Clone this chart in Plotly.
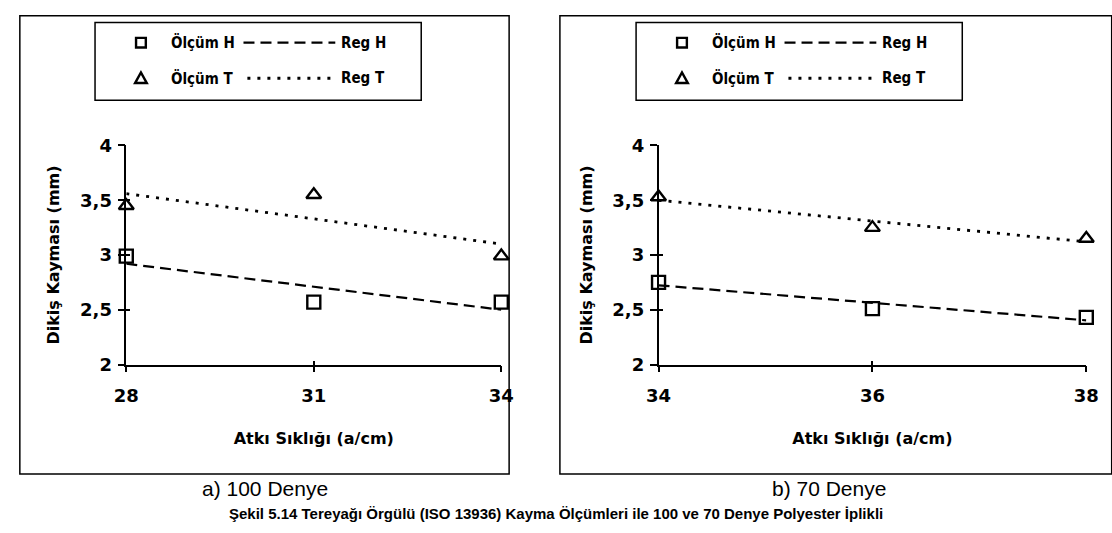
import numpy as np
import plotly.graph_objects as go

W, H = 1112, 533

# a) 100 Denye
atki_a = [28, 31, 34]
olcum_h_a = [2.99, 2.57, 2.57]
olcum_t_a = [3.45, 3.55, 2.99]

# b) 70 Denye
atki_b = [34, 36, 38]
olcum_h_b = [2.75, 2.51, 2.43]
olcum_t_b = [3.53, 3.25, 3.15]

y_tickvals = [2, 2.5, 3, 3.5, 4]
y_ticktext = ["2", "2,5", "3", "3,5", "4"]

panel_titles = ["a) 100 Denye", "b) 70 Denye"]
caption = "Şekil 5.14 Tereyağı Örgülü (ISO 13936) Kayma Ölçümleri ile 100 ve 70 Denye Polyester İplikli"


def px(x):
    return x / W


def py(y):
    return 1 - y / H


def fit_line(xs, ys):
    k, b = np.polyfit(xs, ys, 1)
    ends = np.array([min(xs), max(xs)], dtype=float)
    return ends, k * ends + b


BOLD = dict(family="DejaVu Sans", weight="bold", color="black")
COND = dict(family="DejaVu Sans Condensed", weight="bold", color="black")

fig = go.Figure()

panels = [
    dict(x=atki_a, h=olcum_h_a, t=olcum_t_a, xa="x", ya="y"),
    dict(x=atki_b, h=olcum_h_b, t=olcum_t_b, xa="x2", ya="y2"),
]

for p in panels:
    ex, eh = fit_line(p["x"], p["h"])
    _, et = fit_line(p["x"], p["t"])
    fig.add_trace(go.Scatter(x=ex, y=eh, mode="lines", xaxis=p["xa"], yaxis=p["ya"],
                             line=dict(color="black", width=2.2, dash="11px,6px"),
                             cliponaxis=False, showlegend=False, hoverinfo="skip"))
    fig.add_trace(go.Scatter(x=ex, y=et, mode="lines", xaxis=p["xa"], yaxis=p["ya"],
                             line=dict(color="black", width=2.8, dash="3px,7px"),
                             cliponaxis=False, showlegend=False, hoverinfo="skip"))
    fig.add_trace(go.Scatter(x=p["x"], y=p["h"], mode="markers", xaxis=p["xa"], yaxis=p["ya"],
                             marker=dict(symbol="square-open", size=13, color="black",
                                         line=dict(width=2.4, color="black")),
                             cliponaxis=False, showlegend=False))
    fig.add_trace(go.Scatter(x=p["x"], y=p["t"], mode="markers", xaxis=p["xa"], yaxis=p["ya"],
                             marker=dict(symbol="triangle-up-open", size=13, color="black",
                                         line=dict(width=2.4, color="black")),
                             cliponaxis=False, showlegend=False))

# empty traces so the inner-tick overlay axes get drawn
fig.add_trace(go.Scatter(x=[None], y=[None], xaxis="x3", yaxis="y3", showlegend=False))
fig.add_trace(go.Scatter(x=[None], y=[None], xaxis="x4", yaxis="y4", showlegend=False))

y_dom = [py(368), py(140)]
xa_dom = [px(116), px(500)]
xb_dom = [px(661), px(1099)]

common_x = dict(showgrid=False, zeroline=False, showline=True, linecolor="black", linewidth=1.5,
                ticks="outside", ticklen=6, tickwidth=1.5, tickcolor="black",
                tickfont=dict(size=18, **BOLD), fixedrange=True)
common_y = dict(showgrid=False, zeroline=False, showline=True, linecolor="black", linewidth=1.5,
                ticks="outside", ticklen=7, tickwidth=1.5, tickcolor="black",
                tickvals=y_tickvals, ticktext=y_ticktext, range=[2, 4],
                tickfont=dict(size=18, **BOLD), fixedrange=True, ticklabelstandoff=2)
inner = dict(showgrid=False, zeroline=False, showline=False, ticks="inside", ticklen=4,
             tickwidth=1.5, tickcolor="black", showticklabels=False, fixedrange=True)

x_title = dict(text="Atkı Sıklığı (a/cm)", font=dict(size=16, **BOLD), standoff=28)
y_title = dict(text="Dikiş Kayması (mm)", font=dict(size=16, **BOLD), standoff=16)

fig.update_layout(
    width=W, height=H, margin=dict(l=0, r=0, t=0, b=0),
    paper_bgcolor="white", plot_bgcolor="rgba(0,0,0,0)",
    xaxis=dict(domain=xa_dom, range=[28, 34], tickvals=atki_a, anchor="y",
               title=x_title, ticklabelstandoff=8, **common_x),
    yaxis=dict(domain=y_dom, anchor="x", title=y_title, **common_y),
    xaxis2=dict(domain=xb_dom, range=[34, 38], tickvals=atki_b, anchor="y2",
                title=x_title, ticklabelstandoff=8, **common_x),
    yaxis2=dict(domain=y_dom, anchor="x2", title=y_title, **common_y),
    xaxis3=dict(domain=xa_dom, range=[28, 34], tickvals=atki_a, overlaying="x", anchor="y3", **inner),
    yaxis3=dict(domain=y_dom, range=[2, 4], tickvals=y_tickvals, overlaying="y", anchor="x3", **inner),
    xaxis4=dict(domain=xb_dom, range=[34, 38], tickvals=atki_b, overlaying="x2", anchor="y4", **inner),
    yaxis4=dict(domain=y_dom, range=[2, 4], tickvals=y_tickvals, overlaying="y2", anchor="x4", **inner),
)

shapes = []
annotations = []

# panel frames
for x0, x1 in [(7, 508), (560, 1125)]:
    shapes.append(dict(type="rect", xref="paper", yref="paper", x0=px(x0), x1=px(x1),
                       y0=py(482), y1=py(5), line=dict(color="black", width=1.5)))

# legend boxes
for off in [0, 554]:
    shapes.append(dict(type="rect", xref="paper", yref="paper", x0=px(84 + off), x1=px(418 + off),
                       y0=py(93), y1=py(12), line=dict(color="black", width=1.5)))
    # square key
    shapes.append(dict(type="rect", xref="paper", yref="paper",
                       x0=px(126 + off), x1=px(136 + off), y0=py(38), y1=py(28),
                       line=dict(color="black", width=2.4)))
    # triangle key
    tx, ty = 131 + off, 70
    path = "M {} {} L {} {} L {} {} Z".format(px(tx - 6), py(ty + 5), px(tx + 6), py(ty + 5), px(tx), py(ty - 6))
    shapes.append(dict(type="path", xref="paper", yref="paper", path=path,
                       line=dict(color="black", width=2.4)))
    # line keys
    shapes.append(dict(type="line", xref="paper", yref="paper", x0=px(236 + off), x1=px(330 + off),
                       y0=py(33), y1=py(33), line=dict(color="black", width=2.2, dash="11px,6px")))
    shapes.append(dict(type="line", xref="paper", yref="paper", x0=px(240 + off), x1=px(330 + off),
                       y0=py(70), y1=py(70), line=dict(color="black", width=2.8, dash="3px,7px")))
    for label, lx, ly in [("Ölçüm H", 160, 33), ("Reg H", 334, 33),
                          ("Ölçüm T", 160, 70), ("Reg T", 334, 70)]:
        annotations.append(dict(text=label, xref="paper", yref="paper", x=px(lx + off), y=py(ly),
                                xanchor="left", yanchor="middle", showarrow=False,
                                font=dict(size=15, **COND)))

# panel captions
for title, cx in zip(panel_titles, [258, 836]):
    annotations.append(dict(text=title, xref="paper", yref="paper", x=px(cx), y=py(497),
                            xanchor="center", yanchor="middle", showarrow=False,
                            font=dict(family="Liberation Sans", size=21, color="black")))

# figure caption along the bottom edge
annotations.append(dict(text="<b>" + caption + "</b>", xref="paper", yref="paper", x=px(556), y=0,
                        xanchor="center", yanchor="bottom", showarrow=False, borderpad=0,
                        font=dict(family="Liberation Sans", size=15, color="black")))

fig.update_layout(shapes=shapes, annotations=annotations)

fig.write_html("out.html")
